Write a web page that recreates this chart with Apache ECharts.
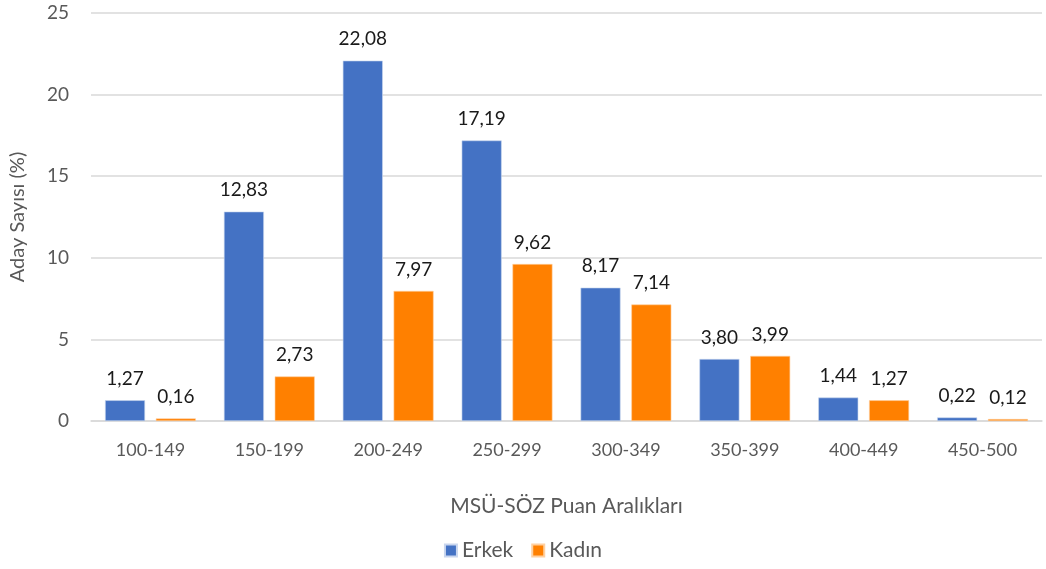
<!DOCTYPE html>
<html>
<head>
<meta charset="utf-8">
<script src="https://cdn.jsdelivr.net/npm/echarts@6/dist/echarts.min.js"></script>
<style>
  html, body { margin: 0; padding: 0; background: #fff; }
  #chart { width: 1046px; height: 569px; }
</style>
</head>
<body>
<div id="chart"></div>
<script>
const categories = ['100-149', '150-199', '200-249', '250-299', '300-349', '350-399', '400-449', '450-500']
const erkek = [1.27, 12.83, 22.08, 17.19, 8.17, 3.80, 1.44, 0.22]
const kadin = [0.16, 2.73, 7.97, 9.62, 7.14, 3.99, 1.27, 0.12]

const font = 'Lato'
const fmt = p => p.value.toFixed(2).replace('.', ',')

const chart = echarts.init(document.getElementById('chart'))
chart.setOption({
  animation: false,
  textStyle: { fontFamily: font },
  grid: { left: 82, right: 4, top: 13, bottom: 148 },
  legend: {
    bottom: 3,
    itemWidth: 12,
    itemHeight: 12,
    itemGap: 18,
    icon: 'rect',
    textStyle: { fontSize: 21, color: '#595959', fontFamily: font },
    data: ['Erkek', 'Kadın']
  },
  xAxis: {
    type: 'category',
    data: categories,
    name: 'MSÜ-SÖZ Puan Aralıkları',
    nameLocation: 'middle',
    nameGap: 75,
    nameTextStyle: { fontSize: 21, color: '#595959' },
    axisTick: { show: false },
    axisLine: { lineStyle: { color: '#d9d9d9', width: 1.5 } },
    axisLabel: { fontSize: 18, color: '#595959', margin: 20 }
  },
  yAxis: {
    type: 'value',
    min: 0,
    max: 25,
    interval: 5,
    name: 'Aday Sayısı (%)',
    nameLocation: 'middle',
    nameGap: 63,
    nameTextStyle: { fontSize: 20, color: '#595959' },
    axisLabel: { fontSize: 19, color: '#595959', margin: 22 },
    splitLine: { lineStyle: { color: '#d9d9d9', width: 1.5 } }
  },
  series: [
    {
      name: 'Erkek',
      type: 'bar',
      data: erkek,
      barWidth: 40,
      barGap: '27%',
      itemStyle: { color: '#4472C4', borderColor: '#c9d6ee', borderWidth: 0.6 },
      label: { show: true, position: 'top', distance: 12, fontSize: 19, color: '#1a1a1a', formatter: fmt }
    },
    {
      name: 'Kadın',
      type: 'bar',
      data: kadin,
      barWidth: 40,
      barGap: '27%',
      itemStyle: { color: '#FF8000', borderColor: '#ffd0a0', borderWidth: 0.6 },
      label: { show: true, position: 'top', distance: 12, fontSize: 19, color: '#1a1a1a', formatter: fmt }
    }
  ]
})
</script>
</body>
</html>
